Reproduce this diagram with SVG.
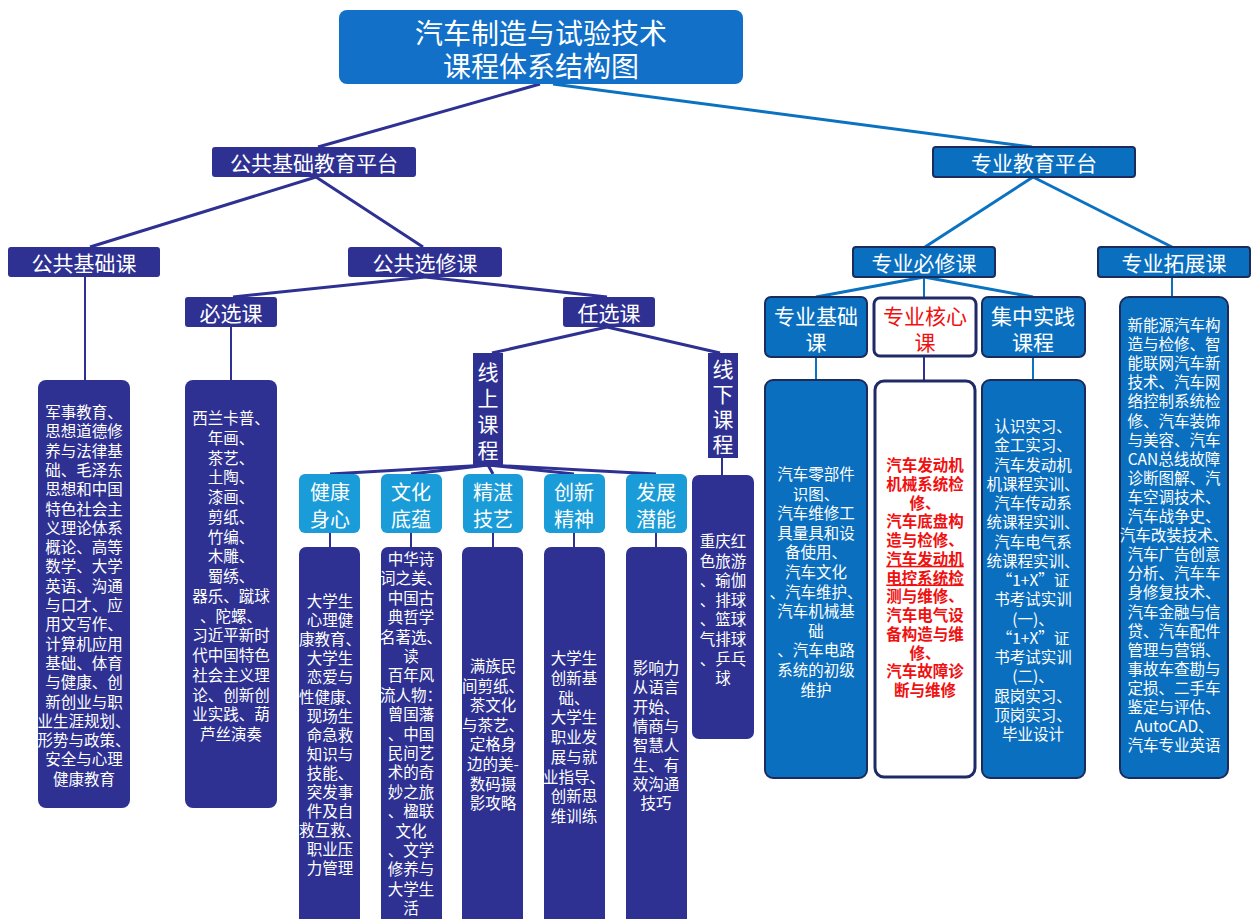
<svg xmlns="http://www.w3.org/2000/svg" width="1253" height="919" viewBox="0 0 1253 919">
<style>
text{font-family:"Noto Sans CJK SC","Noto Sans",sans-serif;text-anchor:middle;dominant-baseline:central;fill:#fff}
.nv{fill:#2e3192}
.bl{fill:#0b6fc0;stroke:#1b2c5c;stroke-width:2}
.cy{fill:#1a9cd8}
.wh{fill:#fff;stroke:#1f2a66;stroke-width:3}
.t28{font-size:28px}
.t21{font-size:21px}
.t20{font-size:20px}
.t15{font-size:15.5px}
.red{fill:#f01010;font-weight:bold;font-size:15.5px}
.cn line{stroke-width:3;fill:none}
.n{stroke:#2e3192}
.b{stroke:#0b72c2}
</style>
<rect width="1253" height="919" fill="#fff"/>
<g id="connectors" class="cn">
<line class="n" x1="540" y1="84" x2="318" y2="147"/>
<line class="b" x1="553" y1="84" x2="1032" y2="147"/>
<line class="n" x1="316" y1="177" x2="90" y2="247"/>
<line class="n" x1="316" y1="177" x2="423" y2="247"/>
<line class="n" x1="85" y1="277" x2="85" y2="380" style="stroke-width:2"/>
<line class="n" x1="425" y1="277" x2="233" y2="297"/>
<line class="n" x1="425" y1="277" x2="607" y2="297"/>
<line class="n" x1="231" y1="327" x2="231" y2="380" style="stroke-width:2"/>
<line class="n" x1="607" y1="327" x2="492" y2="353"/>
<line class="n" x1="607" y1="327" x2="720" y2="353"/>
<line class="n" x1="488" y1="465" x2="330" y2="474"/>
<line class="n" x1="488" y1="465" x2="411" y2="474"/>
<line class="n" x1="488" y1="465" x2="493" y2="474"/>
<line class="n" x1="488" y1="465" x2="574" y2="474"/>
<line class="n" x1="488" y1="465" x2="656" y2="474"/>
<line class="n" x1="330" y1="533" x2="330" y2="547" style="stroke-width:2"/>
<line class="n" x1="411" y1="533" x2="411" y2="547" style="stroke-width:2"/>
<line class="n" x1="493" y1="533" x2="493" y2="547" style="stroke-width:2"/>
<line class="n" x1="574" y1="533" x2="574" y2="547" style="stroke-width:2"/>
<line class="n" x1="656" y1="533" x2="656" y2="547" style="stroke-width:2"/>
<line class="n" x1="722" y1="458" x2="722" y2="475" style="stroke-width:2"/>
<line class="b" x1="1033" y1="177" x2="925" y2="247"/>
<line class="b" x1="1033" y1="177" x2="1172" y2="247"/>
<line class="b" x1="924" y1="277" x2="816" y2="297"/>
<line class="b" x1="924" y1="277" x2="924" y2="297" style="stroke-width:2"/>
<line class="b" x1="924" y1="277" x2="1033" y2="297"/>
<line class="b" x1="816" y1="357" x2="816" y2="380" style="stroke-width:2"/>
<line class="n" x1="924" y1="357" x2="924" y2="380" style="stroke-width:2"/>
<line class="b" x1="1033" y1="357" x2="1033" y2="380" style="stroke-width:2"/>
<line class="b" x1="1172" y1="277" x2="1172" y2="297" style="stroke-width:2"/>
</g>
<g id="title">
<rect x="339" y="10" width="404" height="74" rx="8" fill="#1270c9"/>
<text class="t28" x="541" y="32">汽车制造与试验技术</text>
<text class="t28" x="541" y="65">课程体系结构图</text>
</g>
<g id="gonggong-pingtai">
<rect class="nv" x="212" y="147" width="204" height="30" rx="3"/>
<text class="t21" x="314" y="162">公共基础教育平台</text>
</g>
<g id="zhuanye-pingtai">
<rect class="bl" x="933" y="147" width="202" height="30" rx="3"/>
<text class="t21" x="1034" y="162">专业教育平台</text>
</g>
<g id="gonggong-jichu">
<rect class="nv" x="8" y="247" width="152" height="30" rx="3"/>
<text class="t21" x="84" y="262">公共基础课</text>
</g>
<g id="gonggong-xuanxiu">
<rect class="nv" x="348" y="247" width="154" height="30" rx="3"/>
<text class="t21" x="425" y="262">公共选修课</text>
</g>
<g id="zhuanye-bixiu">
<rect class="bl" x="853" y="247" width="142" height="30" rx="3"/>
<text class="t21" x="924" y="262">专业必修课</text>
</g>
<g id="zhuanye-tuozhan">
<rect class="bl" x="1098" y="247" width="152" height="30" rx="3"/>
<text class="t21" x="1174" y="262">专业拓展课</text>
</g>
<g id="bixuan">
<rect class="nv" x="185" y="297" width="92" height="30" rx="3"/>
<text class="t21" x="231" y="312">必选课</text>
</g>
<g id="renxuan">
<rect class="nv" x="563" y="297" width="92" height="30" rx="3"/>
<text class="t21" x="609" y="312">任选课</text>
</g>
<g id="xianshang">
<rect class="nv" x="473" y="353" width="30" height="112"/>
<text class="t21" x="488" y="371">线</text>
<text class="t21" x="488" y="397">上</text>
<text class="t21" x="488" y="423">课</text>
<text class="t21" x="488" y="449">程</text>
</g>
<g id="xianxia">
<rect class="nv" x="708" y="353" width="30" height="105"/>
<text class="t21" x="723" y="368">线</text>
<text class="t21" x="723" y="393">下</text>
<text class="t21" x="723" y="418">课</text>
<text class="t21" x="723" y="443">程</text>
</g>
<g id="jiankang">
<rect class="cy" x="299" y="474" width="61" height="59" rx="6"/>
<text class="t20" x="330" y="491">健康</text>
<text class="t20" x="330" y="518">身心</text>
</g>
<g id="wenhua">
<rect class="cy" x="381" y="474" width="61" height="59" rx="6"/>
<text class="t20" x="411" y="491">文化</text>
<text class="t20" x="411" y="518">底蕴</text>
</g>
<g id="jingzhan">
<rect class="cy" x="463" y="474" width="60" height="59" rx="6"/>
<text class="t20" x="493" y="491">精湛</text>
<text class="t20" x="493" y="518">技艺</text>
</g>
<g id="chuangxin">
<rect class="cy" x="544" y="474" width="61" height="59" rx="6"/>
<text class="t20" x="574" y="491">创新</text>
<text class="t20" x="574" y="518">精神</text>
</g>
<g id="fazhan">
<rect class="cy" x="626" y="474" width="61" height="59" rx="6"/>
<text class="t20" x="656" y="491">发展</text>
<text class="t20" x="656" y="518">潜能</text>
</g>
<g id="zhuanye-jichu">
<rect class="bl" x="765" y="297" width="102" height="60" rx="6"/>
<text class="t21" x="816" y="315">专业基础</text>
<text class="t21" x="816" y="341">课</text>
</g>
<g id="zhuanye-hexin">
<rect class="wh" x="874" y="298" width="102" height="58" rx="6"/>
<text class="t21" x="925" y="315" style="fill:#f01010">专业核心</text>
<text class="t21" x="925" y="341" style="fill:#f01010">课</text>
</g>
<g id="jizhong-shijian">
<rect class="bl" x="982" y="297" width="103" height="60" rx="6"/>
<text class="t21" x="1033" y="315">集中实践</text>
<text class="t21" x="1033" y="341">课程</text>
</g>
<g id="gonggong-jichu-content">
<rect class="nv" x="38" y="380" width="92" height="428" rx="8"/>
<text class="t15" x="84" y="411">军事教育、</text>
<text class="t15" x="84" y="430.3">思想道德修</text>
<text class="t15" x="84" y="449.6">养与法律基</text>
<text class="t15" x="84" y="468.9">础、毛泽东</text>
<text class="t15" x="84" y="488.2">思想和中国</text>
<text class="t15" x="84" y="507.5">特色社会主</text>
<text class="t15" x="84" y="526.8">义理论体系</text>
<text class="t15" x="84" y="546.1">概论、高等</text>
<text class="t15" x="84" y="565.4">数学、大学</text>
<text class="t15" x="84" y="584.7">英语、沟通</text>
<text class="t15" x="84" y="604">与口才、应</text>
<text class="t15" x="84" y="623.3">用文写作、</text>
<text class="t15" x="84" y="642.6">计算机应用</text>
<text class="t15" x="84" y="661.9">基础、体育</text>
<text class="t15" x="84" y="681.2">与健康、创</text>
<text class="t15" x="84" y="700.5">新创业与职</text>
<text class="t15" x="84" y="719.8">业生涯规划、</text>
<text class="t15" x="84" y="739.1">形势与政策、</text>
<text class="t15" x="84" y="758.4">安全与心理</text>
<text class="t15" x="84" y="777.7">健康教育</text>
</g>
<g id="bixuan-content">
<rect class="nv" x="185" y="380" width="92" height="428" rx="8"/>
<text class="t15" x="231" y="417">西兰卡普、</text>
<text class="t15" x="231" y="436.8">年画、</text>
<text class="t15" x="231" y="456.5">茶艺、</text>
<text class="t15" x="231" y="476.3">土陶、</text>
<text class="t15" x="231" y="496">漆画、</text>
<text class="t15" x="231" y="515.8">剪纸、</text>
<text class="t15" x="231" y="535.5">竹编、</text>
<text class="t15" x="231" y="555.3">木雕、</text>
<text class="t15" x="231" y="575">蜀绣、</text>
<text class="t15" x="231" y="594.8">器乐、蹴球</text>
<text class="t15" x="231" y="614.5">、陀螺、</text>
<text class="t15" x="231" y="634.3">习近平新时</text>
<text class="t15" x="231" y="654">代中国特色</text>
<text class="t15" x="231" y="673.8">社会主义理</text>
<text class="t15" x="231" y="693.5">论、创新创</text>
<text class="t15" x="231" y="713.3">业实践、葫</text>
<text class="t15" x="231" y="733">芦丝演奏</text>
</g>
<g id="jiankang-content">
<rect class="nv" x="299" y="547" width="61" height="390" rx="7"/>
<text class="t15" x="330" y="600">大学生</text>
<text class="t15" x="330" y="619.1">心理健</text>
<text class="t15" x="330" y="638.2">康教育、</text>
<text class="t15" x="330" y="657.3">大学生</text>
<text class="t15" x="330" y="676.4">恋爱与</text>
<text class="t15" x="330" y="695.5">性健康、</text>
<text class="t15" x="330" y="714.6">现场生</text>
<text class="t15" x="330" y="733.7">命急救</text>
<text class="t15" x="330" y="752.8">知识与</text>
<text class="t15" x="330" y="771.9">技能、</text>
<text class="t15" x="330" y="791">突发事</text>
<text class="t15" x="330" y="810.1">件及自</text>
<text class="t15" x="330" y="829.2">救互救、</text>
<text class="t15" x="330" y="848.3">职业压</text>
<text class="t15" x="330" y="867.4">力管理</text>
</g>
<g id="wenhua-content">
<rect class="nv" x="381" y="547" width="61" height="390" rx="7"/>
<text class="t15" x="411" y="558">中华诗</text>
<text class="t15" x="411" y="577.4">词之美、</text>
<text class="t15" x="411" y="596.8">中国古</text>
<text class="t15" x="411" y="616.2">典哲学</text>
<text class="t15" x="411" y="635.6">名著选、</text>
<text class="t15" x="411" y="655">读</text>
<text class="t15" x="411" y="674.4">百年风</text>
<text class="t15" x="411" y="693.8">流人物：</text>
<text class="t15" x="411" y="713.2">曾国藩</text>
<text class="t15" x="411" y="732.6">、中国</text>
<text class="t15" x="411" y="752">民间艺</text>
<text class="t15" x="411" y="771.4">术的奇</text>
<text class="t15" x="411" y="790.8">妙之旅</text>
<text class="t15" x="411" y="810.2">、楹联</text>
<text class="t15" x="411" y="829.6">文化</text>
<text class="t15" x="411" y="849">、文学</text>
<text class="t15" x="411" y="868.4">修养与</text>
<text class="t15" x="411" y="887.8">大学生</text>
<text class="t15" x="411" y="907.2">活</text>
</g>
<g id="jingzhan-content">
<rect class="nv" x="462" y="547" width="61" height="390" rx="7"/>
<text class="t15" x="493" y="665">满族民</text>
<text class="t15" x="493" y="684.6">间剪纸、</text>
<text class="t15" x="493" y="704.2">茶文化</text>
<text class="t15" x="493" y="723.8">与茶艺、</text>
<text class="t15" x="493" y="743.4">定格身</text>
<text class="t15" x="493" y="763">边的美-</text>
<text class="t15" x="493" y="782.6">数码摄</text>
<text class="t15" x="493" y="802.2">影攻略</text>
</g>
<g id="chuangxin-content">
<rect class="nv" x="544" y="547" width="61" height="390" rx="7"/>
<text class="t15" x="574" y="657">大学生</text>
<text class="t15" x="574" y="676.8">创新基</text>
<text class="t15" x="574" y="696.5">础、</text>
<text class="t15" x="574" y="716.3">大学生</text>
<text class="t15" x="574" y="736">职业发</text>
<text class="t15" x="574" y="755.8">展与就</text>
<text class="t15" x="574" y="775.5">业指导、</text>
<text class="t15" x="574" y="795.3">创新思</text>
<text class="t15" x="574" y="815">维训练</text>
</g>
<g id="fazhan-content">
<rect class="nv" x="626" y="547" width="61" height="390" rx="7"/>
<text class="t15" x="656" y="667">影响力</text>
<text class="t15" x="656" y="686.3">从语言</text>
<text class="t15" x="656" y="705.6">开始、</text>
<text class="t15" x="656" y="724.9">情商与</text>
<text class="t15" x="656" y="744.2">智慧人</text>
<text class="t15" x="656" y="763.5">生、有</text>
<text class="t15" x="656" y="782.8">效沟通</text>
<text class="t15" x="656" y="802.1">技巧</text>
</g>
<g id="xianxia-content">
<rect class="nv" x="692" y="475" width="62" height="264" rx="7"/>
<text class="t15" x="723" y="540">重庆红</text>
<text class="t15" x="723" y="559.6">色旅游</text>
<text class="t15" x="723" y="579.2">、瑜伽</text>
<text class="t15" x="723" y="598.8">、排球</text>
<text class="t15" x="723" y="618.4">、篮球</text>
<text class="t15" x="723" y="638">气排球</text>
<text class="t15" x="723" y="657.6">、乒乓</text>
<text class="t15" x="723" y="677.2">球</text>
</g>
<g id="zhuanye-jichu-content">
<rect class="bl" x="765" y="380" width="102" height="398" rx="8"/>
<text class="t15" x="816" y="473">汽车零部件</text>
<text class="t15" x="816" y="492.6">识图、</text>
<text class="t15" x="816" y="512.2">汽车维修工</text>
<text class="t15" x="816" y="531.8">具量具和设</text>
<text class="t15" x="816" y="551.4">备使用、</text>
<text class="t15" x="816" y="571">汽车文化</text>
<text class="t15" x="816" y="590.6">、汽车维护、</text>
<text class="t15" x="816" y="610.2">汽车机械基</text>
<text class="t15" x="816" y="629.8">础</text>
<text class="t15" x="816" y="649.4">、汽车电路</text>
<text class="t15" x="816" y="669">系统的初级</text>
<text class="t15" x="816" y="688.6">维护</text>
</g>
<g id="zhuanye-hexin-content">
<rect class="wh" x="875" y="381" width="100" height="396" rx="9"/>
<text class="red" x="925" y="464">汽车发动机</text>
<text class="red" x="925" y="482.8">机械系统检</text>
<text class="red" x="925" y="501.5">修、</text>
<text class="red" x="925" y="520.3">汽车底盘构</text>
<text class="red" x="925" y="539">造与检修、</text>
<text class="red" x="925" y="557.8" text-decoration="underline">汽车发动机</text>
<text class="red" x="925" y="576.5" text-decoration="underline">电控系统检</text>
<text class="red" x="925" y="595.3">测与维修、</text>
<text class="red" x="925" y="614">汽车电气设</text>
<text class="red" x="925" y="632.8">备构造与维</text>
<text class="red" x="925" y="651.5">修、</text>
<text class="red" x="925" y="670.3">汽车故障诊</text>
<text class="red" x="925" y="689">断与维修</text>
</g>
<g id="jizhong-shijian-content">
<rect class="bl" x="982" y="380" width="103" height="398" rx="8"/>
<text class="t15" x="1033" y="425">认识实习、</text>
<text class="t15" x="1033" y="444.3">金工实习、</text>
<text class="t15" x="1033" y="463.5">汽车发动机</text>
<text class="t15" x="1033" y="482.8">机课程实训、</text>
<text class="t15" x="1033" y="502">汽车传动系</text>
<text class="t15" x="1033" y="521.3">统课程实训、</text>
<text class="t15" x="1033" y="540.5">汽车电气系</text>
<text class="t15" x="1033" y="559.8">统课程实训、</text>
<text class="t15" x="1033" y="579">“1+X”证</text>
<text class="t15" x="1033" y="598.3">书考试实训</text>
<text class="t15" x="1033" y="617.5">(一)、</text>
<text class="t15" x="1033" y="636.8">“1+X”证</text>
<text class="t15" x="1033" y="656">书考试实训</text>
<text class="t15" x="1033" y="675.3">(二)、</text>
<text class="t15" x="1033" y="694.5">跟岗实习、</text>
<text class="t15" x="1033" y="713.8">顶岗实习、</text>
<text class="t15" x="1033" y="733">毕业设计</text>
</g>
<g id="zhuanye-tuozhan-content">
<rect class="bl" x="1120" y="297" width="108" height="481" rx="9"/>
<text class="t15" x="1174" y="324">新能源汽车构</text>
<text class="t15" x="1174" y="343.1">造与检修、智</text>
<text class="t15" x="1174" y="362.2">能联网汽车新</text>
<text class="t15" x="1174" y="381.3">技术、汽车网</text>
<text class="t15" x="1174" y="400.4">络控制系统检</text>
<text class="t15" x="1174" y="419.5">修、汽车装饰</text>
<text class="t15" x="1174" y="438.6">与美容、汽车</text>
<text class="t15" x="1174" y="457.7">CAN总线故障</text>
<text class="t15" x="1174" y="476.8">诊断图解、汽</text>
<text class="t15" x="1174" y="495.9">车空调技术、</text>
<text class="t15" x="1174" y="515">汽车战争史、</text>
<text class="t15" x="1174" y="534.1">汽车改装技术、</text>
<text class="t15" x="1174" y="553.2">汽车广告创意</text>
<text class="t15" x="1174" y="572.3">分析、汽车车</text>
<text class="t15" x="1174" y="591.4">身修复技术、</text>
<text class="t15" x="1174" y="610.5">汽车金融与信</text>
<text class="t15" x="1174" y="629.6">贷、汽车配件</text>
<text class="t15" x="1174" y="648.7">管理与营销、</text>
<text class="t15" x="1174" y="667.8">事故车查勘与</text>
<text class="t15" x="1174" y="686.9">定损、二手车</text>
<text class="t15" x="1174" y="706">鉴定与评估、</text>
<text class="t15" x="1174" y="725.1">AutoCAD、</text>
<text class="t15" x="1174" y="744.2">汽车专业英语</text>
</g>
</svg>
